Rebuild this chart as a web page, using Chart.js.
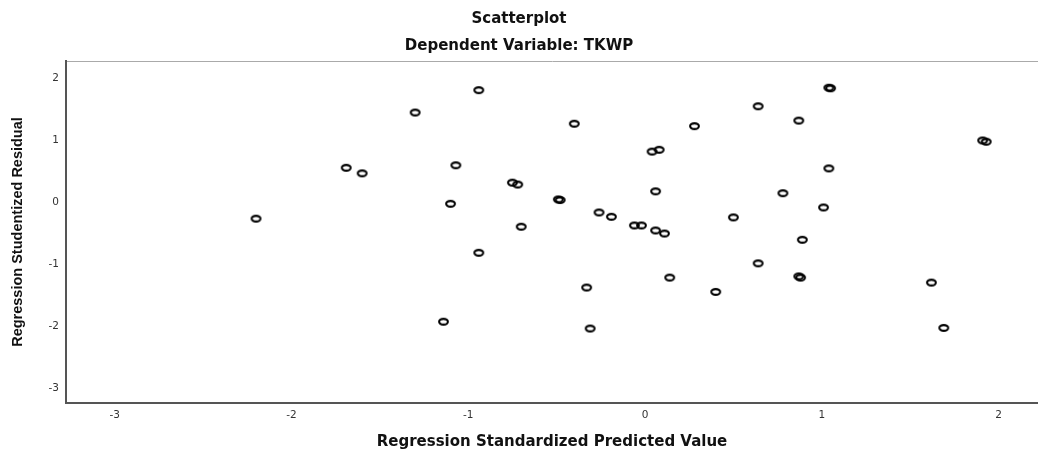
<!DOCTYPE html>
<html>
<head>
<meta charset="utf-8">
<script src="https://cdn.jsdelivr.net/npm/chart.js@4.4.1/dist/chart.umd.min.js"></script>
<style>
  html, body { margin: 0; padding: 0; background: #fff; }
  #wrap { width: 1038px; height: 450px; }
</style>
</head>
<body>
<div id="wrap"><canvas id="scatterChart" width="1038" height="450"></canvas></div>
<script>
// ── Data ────────────────────────────────────
const predictedValues = [
  -2.20, -1.69, -1.60, -0.94, -1.30, -0.40, 0.28, 0.04, 0.08, -1.07,
  -0.75, -0.72, -0.49, -0.48, -1.10, 0.06, -0.26, -0.19, -0.70, -0.06,
  -0.02, 0.06, 0.11, -0.94, 0.14, -0.33, -1.14, -0.31, 1.04, 1.05,
  0.64, 0.87, 1.91, 1.93, 1.04, 0.78, 1.01, 0.50, 0.89, 0.64,
  0.87, 0.88, 0.40, 1.62, 1.69
];
const studentizedResiduals = [
  -0.26, 0.56, 0.47, 1.81, 1.45, 1.27, 1.23, 0.82, 0.85, 0.60,
  0.32, 0.29, 0.05, 0.04, -0.02, 0.18, -0.16, -0.23, -0.39, -0.37,
  -0.37, -0.45, -0.50, -0.81, -1.21, -1.37, -1.92, -2.03, 1.85, 1.84,
  1.55, 1.32, 1.00, 0.98, 0.55, 0.15, -0.08, -0.24, -0.60, -0.98,
  -1.19, -1.21, -1.44, -1.29, -2.02
];
const xTicks = [-3, -2, -1, 0, 1, 2];
const yTicks = [-3, -2, -1, 0, 1, 2];

// ── Open elliptical marker ──────────────────
function makeMarker() {
  const c = document.createElement('canvas');
  c.width = 13; c.height = 10;
  const g = c.getContext('2d');
  g.strokeStyle = '#000';
  g.lineWidth = 2.1;
  g.beginPath();
  g.ellipse(6.5, 5, 4.4, 2.9, 0, 0, Math.PI * 2);
  g.stroke();
  return c;
}

const tickFont  = { family: "'DejaVu Sans', sans-serif", size: 10.5 };
const titleFont = { family: "'DejaVu Sans', sans-serif", size: 15, weight: 'bold', lineHeight: 1 };

new Chart(document.getElementById('scatterChart'), {
  type: 'scatter',
  data: {
    datasets: [{
      label: 'Regression Studentized Residual',
      data: predictedValues.map((x, i) => ({ x, y: studentizedResiduals[i] })),
      pointStyle: makeMarker(),
      pointRadius: 5,
      pointHoverRadius: 5,
    }],
  },
  options: {
    responsive: false,
    animation: false,
    layout: { padding: 0, autoPadding: false },
    plugins: {
      legend: { display: false },
      tooltip: { enabled: false },
      title: {
        display: true,
        text: 'Scatterplot',
        color: '#111',
        font: titleFont,
        padding: { top: 12, bottom: 0 },
      },
      subtitle: {
        display: true,
        text: 'Dependent Variable: TKWP',
        color: '#111',
        font: titleFont,
        padding: { top: 12, bottom: 7 },
      },
    },
    scales: {
      x: {
        type: 'linear',
        position: 'bottom',
        min: -3.275,
        max: 2.223,
        afterBuildTicks: s => { s.ticks = xTicks.map(v => ({ value: v })); },
        afterFit: s => { s.height = 47; },
        grid: { display: false, drawTicks: false },
        border: { display: true, color: '#555', width: 2 },
        ticks: { color: '#333', font: tickFont, padding: 6, maxRotation: 0 },
        title: {
          display: true,
          text: 'Regression Standardized Predicted Value',
          color: '#111',
          font: titleFont,
          padding: { top: 0, bottom: 0 },
        },
      },
      xTop: {
        type: 'linear',
        position: 'top',
        min: -3.275,
        max: 2.223,
        afterFit: s => { s.height = 0; },
        grid: { display: false, drawTicks: false },
        border: { display: true, color: '#aaa', width: 1 },
        ticks: { display: false },
      },
      y: {
        type: 'linear',
        position: 'left',
        min: -3.23,
        max: 2.28,
        afterBuildTicks: s => { s.ticks = yTicks.map(v => ({ value: v })); },
        afterFit: s => { s.width = 66; },
        grid: { display: false, drawTicks: false },
        border: { display: true, color: '#555', width: 2 },
        ticks: { color: '#333', font: tickFont, padding: 7 },
        title: {
          display: true,
          text: 'Regression Studentized Residual',
          color: '#111',
          font: { family: "'Liberation Sans', Arial, sans-serif", size: 14.5, weight: 'bold', lineHeight: 1 },
          padding: { top: 11, bottom: 0 },
        },
      },
    },
  },
});
</script>
</body>
</html>
